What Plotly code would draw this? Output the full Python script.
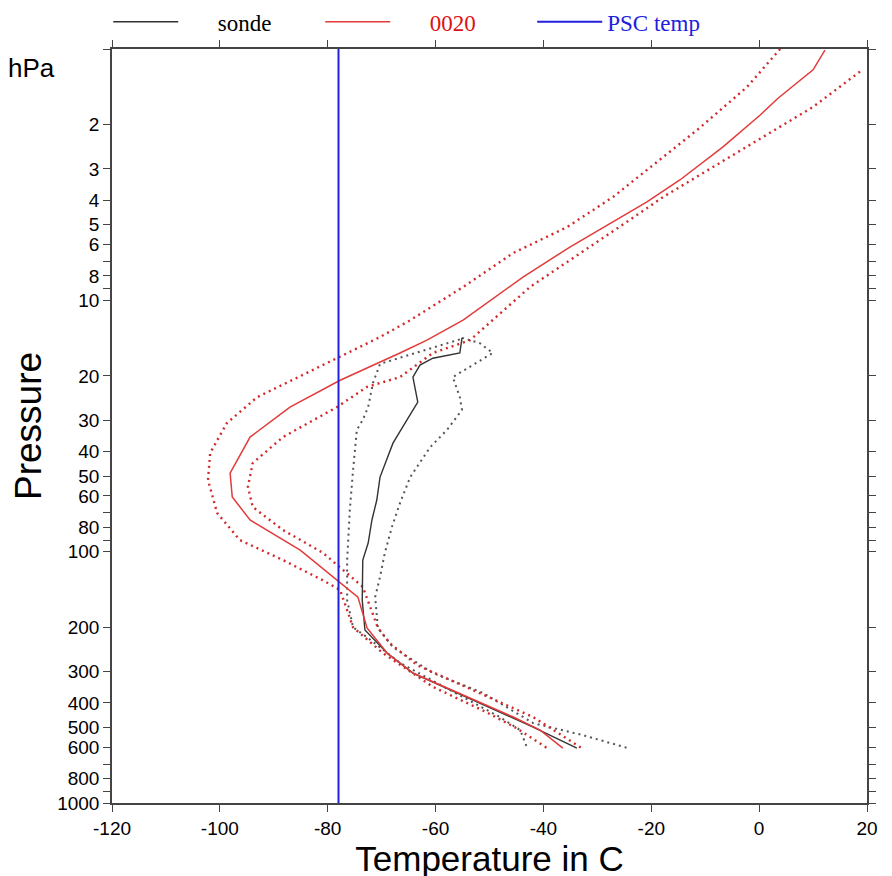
import plotly.graph_objects as go

# PSC threshold temperature (C)
psc_temp = -78
psc_p = [1, 1000]

# 0020 model profile: mean and +/- spread
model_p = [1.01, 1.21, 1.57, 1.83, 2.45, 3.32, 4.06, 4.88, 6.14, 8.08, 12.0, 14.4, 16.2,
           20.8, 26.6, 35.0, 48.7, 60.6, 74.8, 98.6, 129.7, 151.6, 201, 253, 304, 379,
           455, 513, 605]
model_t = [12.2, 10.0, 3.5, 0.2, -6.7, -14.7, -20.8, -27.1, -35.1, -43.8, -54.9, -61.6, -66.6,
           -77.7, -87.0, -94.4, -98.1, -97.7, -94.4, -85.1, -78.3, -74.4, -72.7, -69.0, -64.2, -54.2,
           -45.6, -40.6, -36.4]

model_lo_p = [1.0, 1.42, 2.10, 3.03, 3.88, 5.11, 6.48, 8.85, 12.0, 14.0, 17.0, 20.8, 24.3,
              30.8, 40.5, 51.9, 70.2, 89.9, 108, 130, 142, 200, 253, 345, 436, 505, 605]
model_lo_t = [3.9, -2.3, -11.5, -20.8, -27.1, -35.6, -45.6, -54.9, -64.7, -70.3, -78.3, -86.4, -93.1,
              -98.7, -101.8, -102.2, -100.5, -96.3, -88.3, -80.9, -77.7, -75.3, -69.8, -60.5, -50.5, -44.9, -39.3]

model_hi_p = [1.23, 1.70, 2.24, 2.95, 3.88, 4.79, 6.48, 8.85, 14.4, 16.2, 20.2, 22.1, 26.6,
              35.0, 44.4, 55.3, 66.4, 82.0, 101, 138, 201, 231, 283, 346, 455, 605]
model_hi_t = [18.7, 10.0, 0.7, -8.6, -17.8, -24.0, -33.2, -42.5, -53.6, -60.5, -66.6, -72.7, -78.3,
              -88.3, -93.9, -94.8, -93.9, -88.3, -80.9, -73.5, -70.7, -68.5, -63.4, -54.2, -41.9, -32.9]

# sonde profile: mean and +/- spread
sonde_p = [14.1, 16.2, 17.0, 18.1, 20.2, 25.4, 29.9, 37.0, 50.5, 62.3, 74.8, 92.4, 108,
           156, 205, 253, 304, 379, 499, 605]
sonde_t = [-55.1, -55.5, -60.5, -62.9, -64.2, -63.3, -65.3, -67.9, -70.3, -70.9, -71.8, -72.5, -73.5,
           -73.6, -73.1, -69.0, -64.2, -54.2, -41.9, -33.8]

sonde_lo_p = [14.3, 17.9, 21.3, 26.6, 29.9, 32.8, 47.4, 68.3, 108, 156, 200, 219, 277,
              355, 455, 513, 605]
sonde_lo_t = [-55.5, -70.3, -71.6, -72.5, -73.5, -74.6, -75.3, -75.9, -76.4, -76.4, -75.3, -72.7, -66.6,
              -57.3, -48.1, -44.3, -43.0]

sonde_hi_p = [14.1, 14.8, 16.2, 20.2, 24.3, 27.3, 32.8, 38.4, 50.5, 64.1, 79.8, 101, 126,
              151.6, 201, 240, 304, 365, 481, 537, 605]
sonde_hi_t = [-55.1, -51.8, -49.4, -56.8, -55.5, -55.1, -57.9, -61.0, -64.7, -66.6, -68.1, -69.4, -70.3,
              -71.2, -70.7, -67.9, -60.5, -51.2, -41.9, -32.7, -24.3]

p_ticks = [1, 2, 3, 4, 5, 6, 7, 8, 9, 10, 20, 30, 40, 50, 60, 70, 80, 90, 100,
           200, 300, 400, 500, 600, 700, 800, 900, 1000]
p_labels = ["", "2", "3", "4", "5", "6", "", "8", "", "10", "20", "30", "40", "50", "60", "", "80", "",
            "100", "200", "300", "400", "500", "600", "", "800", "", "1000"]
t_ticks = [-120, -100, -80, -60, -40, -20, 0, 20]
t_labels = ["-120", "-100", "-80", "-60", "-40", "-20", "0", "20"]

RED = "#e23b3b"
RED_DOT = "#d22a2a"
BLACK = "#333333"
BLUE = "#2020dd"
DOTS = "2px,4px"
PAD = "\u00a0" * 6

fig = go.Figure()

for t, p in [(sonde_lo_t, sonde_lo_p), (sonde_hi_t, sonde_hi_p)]:
    fig.add_trace(go.Scatter(x=t, y=p, mode="lines", showlegend=False,
                             line=dict(color="#555555", width=2, dash=DOTS)))
for t, p in [(model_lo_t, model_lo_p), (model_hi_t, model_hi_p)]:
    fig.add_trace(go.Scatter(x=t, y=p, mode="lines", showlegend=False,
                             line=dict(color=RED_DOT, width=2.4, dash=DOTS)))

fig.add_trace(go.Scatter(x=sonde_t, y=sonde_p, mode="lines", name=PAD + "sonde",
                         legendrank=1, line=dict(color=BLACK, width=1.4)))
fig.add_trace(go.Scatter(x=model_t, y=model_p, mode="lines",
                         name=PAD + "<span style='color:#dd1111'>0020</span>",
                         legendrank=2, line=dict(color=RED, width=1.5)))
fig.add_trace(go.Scatter(x=[psc_temp, psc_temp], y=psc_p, mode="lines",
                         name="<span style='color:#2020dd'>PSC temp</span>",
                         legendrank=3, line=dict(color=BLUE, width=2)))

axis_common = dict(showline=True, linecolor="#444444", linewidth=1.5, mirror="ticks",
                   ticks="outside", ticklen=7, tickcolor="#444444", tickwidth=1.2,
                   showgrid=False, zeroline=False,
                   tickfont=dict(family="Liberation Sans, Arial", size=19, color="black"))

fig.update_layout(
    width=892, height=876,
    margin=dict(l=104, r=33, t=41, b=81, autoexpand=False),
    paper_bgcolor="white", plot_bgcolor="white",
    xaxis=dict(range=[-120, 20], tickvals=t_ticks, ticktext=t_labels,
               title=dict(text="Temperature in C", standoff=0,
                          font=dict(family="Liberation Sans, Arial", size=35, color="black")),
               **axis_common),
    yaxis=dict(type="log", range=[3, 0], tickvals=p_ticks, ticktext=p_labels,
               title=dict(text="Pressure", standoff=8,
                          font=dict(family="Liberation Sans, Arial", size=37, color="black")),
               **axis_common),
    legend=dict(orientation="h", x=-0.005, xanchor="left", y=1.036, yanchor="middle",
                font=dict(family="Liberation Serif, Times New Roman", size=23, color="black"),
                itemwidth=65, entrywidth=132, entrywidthmode="pixels",
                bgcolor="rgba(0,0,0,0)"),
    annotations=[dict(text="hPa", xref="paper", yref="paper", x=-0.14, y=0.975,
                      xanchor="left", yanchor="middle", showarrow=False,
                      font=dict(family="Liberation Sans, Arial", size=26, color="black"))],
)

fig.write_html("out.html")
